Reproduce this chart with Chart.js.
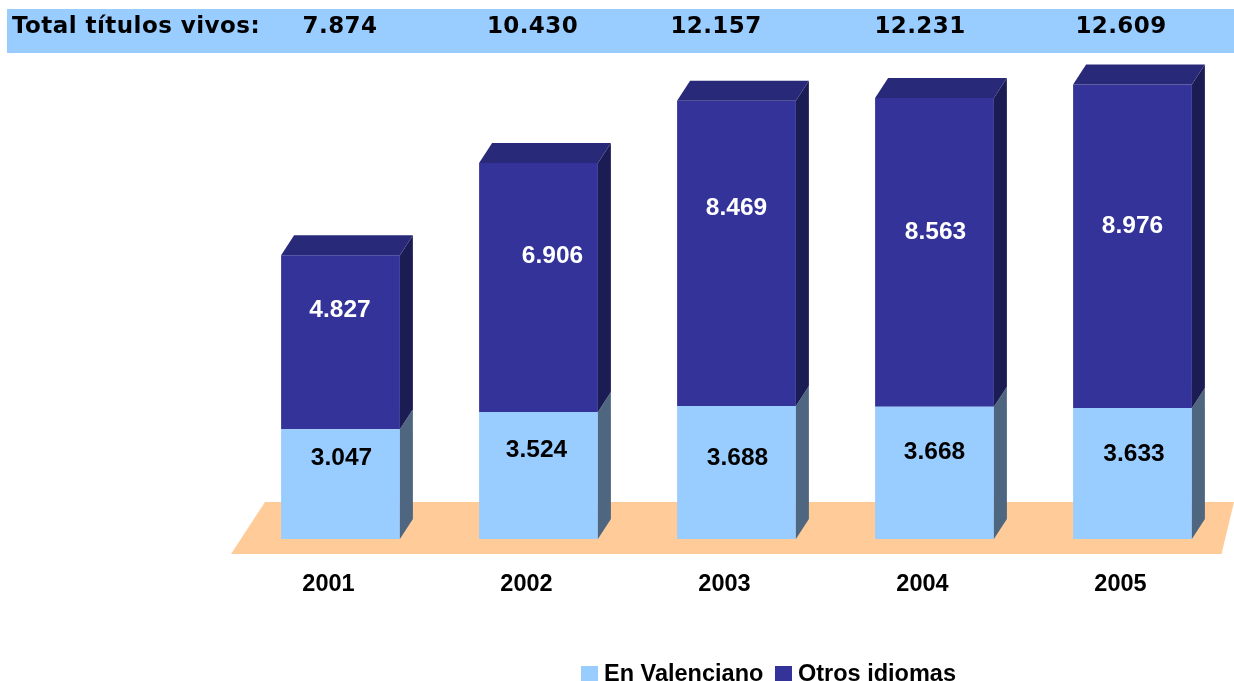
<!DOCTYPE html>
<html>
<head>
    <meta charset="utf-8">
    <title>Total títulos vivos</title>
    <script src="https://cdn.jsdelivr.net/npm/chart.js"></script>
    <style>
        html, body { margin: 0; padding: 0; background: #ffffff; overflow: hidden; }
        canvas { display: block; }
    </style>
</head>
<body>
    <canvas id="titulosChart" width="1234" height="681"></canvas>

    <script>
        // Data
        const years = ['2001', '2002', '2003', '2004', '2005'];
        const enValenciano = [3047, 3524, 3688, 3668, 3633];
        const otrosIdiomas = [4827, 6906, 8469, 8563, 8976];
        const totales = ['7.874', '10.430', '12.157', '12.231', '12.609'];
        const labelValenciano = ['3.047', '3.524', '3.688', '3.668', '3.633'];
        const labelOtros = ['4.827', '6.906', '8.469', '8.563', '8.976'];

        // Layout of the decorations, in pixels
        const depthX = 13;
        const depthY = 20;
        const totalCenters = [340, 532.5, 716, 920, 1121];
        const nudgeValenciano = [[1, -26], [-2, -25], [1, -14], [0, -21], [1.5, -19]];
        const nudgeOtros = [[-0.5, -32], [14, -31], [0, -45], [1, -20], [0, -20]];

        const LIGHT = '#99ccff';
        const DARK = '#333399';
        const ARIAL = '"Liberation Sans", Arial, sans-serif';
        const VERDANA = '"DejaVu Sans", Verdana, sans-serif';

        function polygon(ctx, points, fill) {
            ctx.beginPath();
            points.forEach((p, i) => i ? ctx.lineTo(p[0], p[1]) : ctx.moveTo(p[0], p[1]));
            ctx.closePath();
            ctx.fillStyle = fill;
            ctx.fill();
        }

        // Floor, top band and legend
        const backdrop = {
            id: 'backdrop',
            beforeDatasetsDraw(chart) {
                const ctx = chart.ctx;
                const y0 = chart.scales.y.getPixelForValue(0);
                polygon(ctx, [[231, y0 + 15], [265, y0 - 37], [1234, y0 - 37], [1221.5, y0 + 15]], '#ffcc99');
            },
            afterDraw(chart) {
                const ctx = chart.ctx;
                ctx.save();
                ctx.fillStyle = LIGHT;
                ctx.fillRect(7, 9, 1227, 44);

                ctx.fillStyle = '#000000';
                ctx.textBaseline = 'middle';
                ctx.font = 'bold 23px ' + VERDANA;
                ctx.textAlign = 'left';
                ctx.letterSpacing = '0.45px';
                ctx.fillText('Total títulos vivos:', 12, 27);
                ctx.textAlign = 'center';
                ctx.letterSpacing = '0.4px';
                totales.forEach((t, i) => ctx.fillText(t, totalCenters[i], 27));
                ctx.letterSpacing = '0px';

                ctx.font = 'bold 23.5px ' + ARIAL;
                ctx.textAlign = 'left';
                ctx.fillStyle = LIGHT;
                ctx.fillRect(581, 666, 17, 17);
                ctx.fillStyle = DARK;
                ctx.fillRect(775, 666, 17, 17);
                ctx.fillStyle = '#000000';
                ctx.fillText('En Valenciano', 604, 675);
                ctx.fillText('Otros idiomas', 798, 675);
                ctx.restore();
            }
        };

        // Side and top faces of the bars, plus the value labels
        const bars3d = {
            id: 'bars3d',
            afterDatasetsDraw(chart) {
                const ctx = chart.ctx;
                const low = chart.getDatasetMeta(0).data;
                const high = chart.getDatasetMeta(1).data;
                ctx.save();
                years.forEach((year, i) => {
                    const a = low[i].getProps(['x', 'y', 'base', 'width'], true);
                    const b = high[i].getProps(['x', 'y', 'base', 'width'], true);
                    const left = a.x - a.width / 2;
                    const right = a.x + a.width / 2;

                    polygon(ctx, [[right, a.base], [right + depthX, a.base - depthY],
                        [right + depthX, a.y - depthY], [right, a.y]], '#4f6680');
                    polygon(ctx, [[right, a.y], [right + depthX, a.y - depthY],
                        [right + depthX, b.y - depthY], [right, b.y]], '#1c1c55');
                    polygon(ctx, [[left, b.y], [left + depthX, b.y - depthY],
                        [right + depthX, b.y - depthY], [right, b.y]], '#29297a');

                    ctx.font = 'bold 24.5px ' + ARIAL;
                    ctx.textAlign = 'center';
                    ctx.textBaseline = 'middle';
                    ctx.fillStyle = '#000000';
                    ctx.fillText(labelValenciano[i], a.x + nudgeValenciano[i][0], (a.y + a.base) / 2 + nudgeValenciano[i][1]);
                    ctx.fillStyle = '#ffffff';
                    ctx.fillText(labelOtros[i], b.x + nudgeOtros[i][0], (b.y + b.base) / 2 + nudgeOtros[i][1]);
                });
                ctx.restore();
            }
        };

        new Chart(document.getElementById('titulosChart').getContext('2d'), {
            type: 'bar',
            data: {
                labels: years,
                datasets: [
                    { label: 'En Valenciano', data: enValenciano, backgroundColor: LIGHT, borderWidth: 0 },
                    { label: 'Otros idiomas', data: otrosIdiomas, backgroundColor: DARK, borderWidth: 0 }
                ]
            },
            options: {
                responsive: false,
                animation: false,
                categoryPercentage: 0.6,
                barPercentage: 1,
                layout: { padding: { left: 241.5, right: 2.5, top: 34.3, bottom: 0 } },
                plugins: {
                    legend: { display: false },
                    title: { display: false },
                    tooltip: { enabled: false }
                },
                scales: {
                    x: {
                        stacked: true,
                        afterFit(scale) { scale.height = 142; },
                        grid: { display: false, drawTicks: false },
                        border: { display: false },
                        ticks: {
                            color: '#000000',
                            padding: 31,
                            maxRotation: 0,
                            labelOffset: -12,
                            font: { family: ARIAL, size: 23.5, weight: 'bold' }
                        }
                    },
                    y: {
                        stacked: true,
                        display: false,
                        min: 0,
                        max: 14000
                    }
                }
            },
            plugins: [backdrop, bars3d]
        });
    </script>
</body>
</html>
